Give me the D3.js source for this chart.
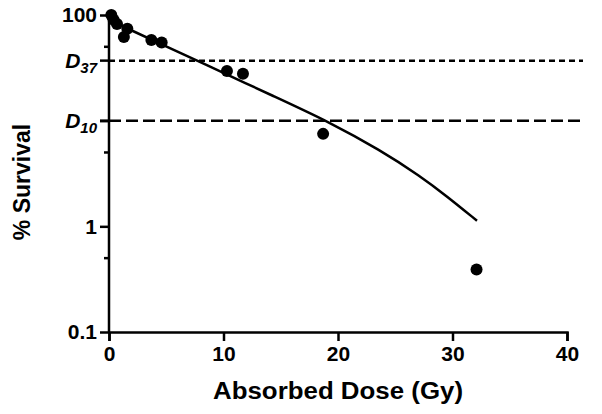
<!DOCTYPE html>
<html><head><meta charset="utf-8">
<script src="https://cdn.jsdelivr.net/npm/d3@7"></script>
<style>body{margin:0;background:#fff}svg{display:block}text{font-family:"Liberation Sans",Arial,sans-serif;font-weight:bold;fill:#000}</style>
</head><body><svg id="c" width="602" height="414"></svg>
<script>
// Observed survival points
const doseGy = [0.2, 0.4, 0.7, 1.3, 1.6, 3.7, 4.6, 10.3, 11.7, 18.7, 32.1];
const survivalPct = [100, 90, 82, 62, 74, 58, 55, 29.5, 27.8, 7.5, 0.39];
// Fitted curve
const fitDose = [0, 1.66, 4.72, 7.95, 14.77, 19.06, 23.7, 27.2, 29.5, 32.14];
const fitSurv = [89.7, 74.1, 52.0, 35.9, 16.3, 9.93, 5.26, 2.98, 1.93, 1.13];
// Axis ticks
const xTicks = [0, 10, 20, 30, 40];
const yTicks = [100, 10, 1, 0.1];
const yTickLabels = ["100", "", "1", "0.1"];
const yMinorTicks = [50, 5, 0.5];
// Reference levels
const refLevels = [37, 10];
const refLabels = [["D", "37"], ["D", "10"]];
const refDash = ["6,4", "12,5"];

const svg = d3.select("#c");
const x = d3.scaleLinear().domain([0, 40]).range([109, 567]);
const y = d3.scaleLog().domain([0.1, 100]).range([332, 15]);

// reference lines
refLevels.forEach((v, i) => {
  svg.append("line").attr("x1", x(0)).attr("x2", 583).attr("y1", y(v)).attr("y2", y(v))
    .attr("stroke", "#000").attr("stroke-width", 2.5).attr("stroke-dasharray", refDash[i]);
  svg.append("line").attr("x1", x(0) - 9).attr("x2", x(0)).attr("y1", y(v)).attr("y2", y(v))
    .attr("stroke", "#000").attr("stroke-width", 2.5);
  const t = svg.append("text").attr("x", 97).attr("y", y(v) + 7).attr("text-anchor", "end")
    .style("font-style", "italic").style("font-size", "21px");
  t.append("tspan").text(refLabels[i][0]);
  t.append("tspan").text(refLabels[i][1]).style("font-size", "15px").attr("dy", 5);
});

// x axis
const xAxis = svg.append("g").attr("transform", `translate(0,${y(0.1)})`)
  .call(d3.axisBottom(x).tickValues(xTicks).tickSize(9).tickPadding(5).tickFormat(d3.format("d")));
xAxis.select(".domain").attr("stroke-width", 2.5);
xAxis.selectAll(".tick line").attr("stroke-width", 2.5);
xAxis.selectAll("text").style("font-size", "21px").style("font-family", '"Liberation Sans",Arial,sans-serif').style("font-weight", "bold");

// y axis
const yAxis = svg.append("g").attr("transform", `translate(${x(0)},0)`)
  .call(d3.axisLeft(y).tickValues(yTicks).tickSize(9).tickPadding(3).tickFormat((d, i) => yTickLabels[i]));
yAxis.select(".domain").attr("stroke-width", 2.5).attr("d", `M0,${y(0.1)}V${y(100) - 3}`);
yAxis.selectAll(".tick line").attr("stroke-width", 2.5);
yAxis.selectAll("text").style("font-size", "21px").style("font-family", '"Liberation Sans",Arial,sans-serif').style("font-weight", "bold");
yAxis.selectAll(".minor").data(yMinorTicks).enter().append("line").attr("class", "minor")
  .attr("x1", -5).attr("x2", 0).attr("y1", d => y(d)).attr("y2", d => y(d))
  .attr("stroke", "#000").attr("stroke-width", 2.5);

// fitted curve
const line = d3.line().x(d => x(d[0])).y(d => y(d[1])).curve(d3.curveBasis);
svg.append("path").datum(fitDose.map((d, i) => [d, fitSurv[i]])).attr("d", line)
  .attr("fill", "none").attr("stroke", "#000").attr("stroke-width", 2.5);

// points
svg.selectAll(".pt").data(doseGy.map((d, i) => [d, survivalPct[i]])).enter().append("circle")
  .attr("cx", d => x(d[0])).attr("cy", d => y(d[1])).attr("r", 6).attr("fill", "#000");

// axis titles
svg.append("text").attr("x", x(20)).attr("y", 399).attr("text-anchor", "middle")
  .attr("textLength", 250).attr("lengthAdjust", "spacingAndGlyphs")
  .style("font-size", "23px").text("Absorbed Dose (Gy)");
svg.append("text").attr("transform", "translate(30,182) rotate(-90)").attr("text-anchor", "middle")
  .style("font-size", "23px").text("% Survival");
</script></body></html>
